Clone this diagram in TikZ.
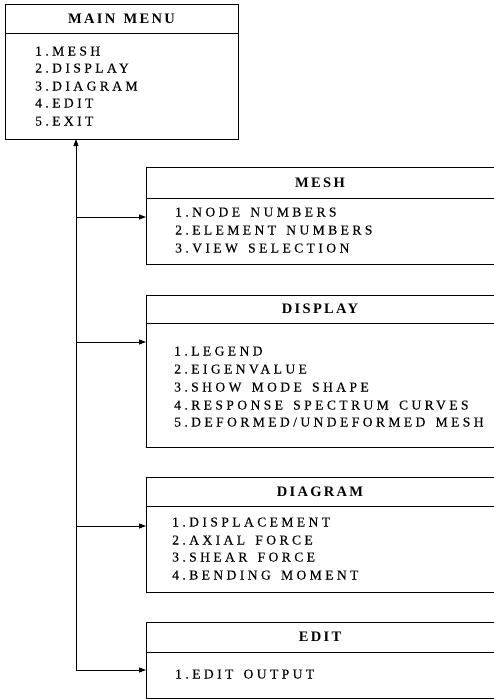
\documentclass[tikz,border=0pt]{standalone}
\usepackage{fontspec}
\setmainfont{Liberation Serif}
\newfontfamily\itemfont[LetterSpace=25,FakeBold=0.15,WordSpace=1.5]{Liberation Serif}
\newfontfamily\ttlfont[LetterSpace=16,WordSpace=1.4]{Liberation Serif}
\usetikzlibrary{arrows.meta}
\begin{document}
\begin{tikzpicture}[x=1pt,y=-1pt,
  box/.style={draw, line width=0.9pt, inner sep=0pt, outer sep=0pt, anchor=north west},
  rule/.style={line width=0.8pt},
  ttl/.style={inner sep=0pt, font=\ttlfont\bfseries\fontsize{14.5}{16}\selectfont},
  itm/.style={inner sep=0pt, anchor=base west, font=\itemfont\fontsize{13.6}{16}\selectfont},
  conn/.style={line width=0.8pt},
  arr/.style={conn, -{Triangle[length=7pt,width=5pt]}}]
\useasboundingbox (0,0) rectangle (493,699);

% MAIN MENU
\node[box, minimum width=233pt, minimum height=135pt] (mainbox) at (5,4) {};
\draw[rule] (5,33) -- (238,33);
\node[ttl] (maint) at (121.5,19) {MAIN MENU};
\foreach \t/\y [count=\i] in {{1.MESH}/51, {2.DISPLAY}/68, {3.DIAGRAM}/86, {4.EDIT}/103, {5.EXIT}/121}
  \node[itm] (mi\i) at (35,\y+4.5) {\t};

% MESH
\node[box, minimum width=348pt, minimum height=97pt] (meshbox) at (146,167) {};
\draw[rule] (146,198) -- (494,198);
\node[ttl] (mesht) at (320,183) {MESH};
\foreach \t/\y [count=\i] in {{1.NODE NUMBERS}/212, {2.ELEMENT NUMBERS}/230, {3.VIEW SELECTION}/248}
  \node[itm] (ms\i) at (175,\y+4.5) {\t};

% DISPLAY
\node[box, minimum width=348pt, minimum height=152pt] (dispbox) at (146,295) {};
\draw[rule] (146,323) -- (494,323);
\node[ttl] (dispt) at (320,309) {DISPLAY};
\node[itm] (ds1) at (174,351+4.5) {1.LEGEND};
\node[itm] (ds2) at (174,369+4.5) {2.EIGENVALUE};
\node[itm] (ds3) at (174,387+4.5) {3.SHOW MODE SHAPE};
\node[itm] (ds4) at (174,405+4.5) {4.RESPONSE SPECTRUM CURVES};
\node[itm] (ds5) at (174,422+4.5) {5.DEFORMED/UNDEFORMED MESH};

% DIAGRAM
\node[box, minimum width=348pt, minimum height=115pt] (diagbox) at (146,477) {};
\draw[rule] (146,506) -- (494,506);
\node[ttl] (diagt) at (320,492) {DIAGRAM};
\foreach \t/\y [count=\i] in {{1.DISPLACEMENT}/522, {2.AXIAL FORCE}/540, {3.SHEAR FORCE}/557, {4.BENDING MOMENT}/575}
  \node[itm] (dg\i) at (172,\y+4.5) {\t};

% EDIT
\node[box, minimum width=348pt, minimum height=76pt] (editbox) at (146,622) {};
\draw[rule] (146,652) -- (494,652);
\node[ttl] (editt) at (320,637) {EDIT};
\node[itm] (ed1) at (175,674+4.5) {1.EDIT OUTPUT};

% connectors
\coordinate (bot) at (76,670);
\coordinate (j1) at (76,217);
\coordinate (j2) at (76,342);
\coordinate (j3) at (76,526);
\draw[arr] (bot) -- (bot |- mainbox.south);
\draw[arr] (j1) -- (j1 -| meshbox.west);
\draw[arr] (j2) -- (j2 -| dispbox.west);
\draw[arr] (j3) -- (j3 -| diagbox.west);
\draw[arr] (bot) -- (bot -| editbox.west);
\end{tikzpicture}
\end{document}
